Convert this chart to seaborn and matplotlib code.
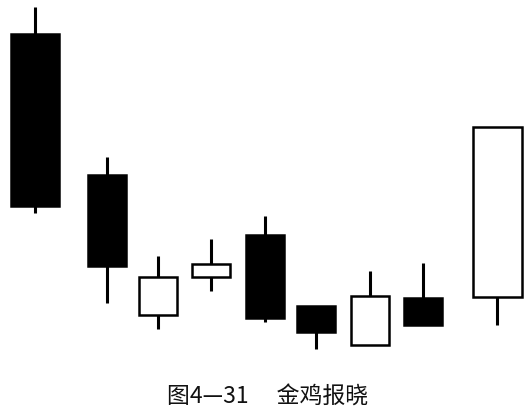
import numpy as np
import matplotlib
matplotlib.use("Agg")
import matplotlib.pyplot as plt
import seaborn as sns

# candle data (price units)
days = [0, 1.36, 2.32, 3.32, 4.34, 5.30, 6.32, 7.32, 8.72]
opens = [32.5, 18.4, 4.4, 8.2, 12.4, 5.3, 1.4, 6.1, 6.2]
closes = [15.3, 9.3, 8.2, 9.5, 4.1, 2.7, 6.3, 3.4, 23.2]
highs = [35.2, 20.2, 10.3, 12.0, 14.3, 5.3, 8.8, 9.6, 23.2]
lows = [14.6, 5.6, 3.0, 6.8, 3.7, 1.0, 1.4, 3.4, 3.4]
caption = "图4\u201431\u3000 金鸡报晓"

sns.set_style("white")
plt.rcParams['font.family'] = ['Noto Sans CJK SC', 'DejaVu Sans']

fig = plt.figure(figsize=(5.28, 4.14), dpi=100)
ax = fig.add_axes([0, 54 / 414, 1, 360 / 414])
ax.set_xlim(-0.66, 9.30)
ax.set_ylim(0, 36)
ax.axis('off')

n = len(days)
widths = [0.92 if i in (0, n - 1) else 0.72 for i in range(n)]

for d, o, c, h, l, w in zip(days, opens, closes, highs, lows, widths):
    top, bot = max(o, c), min(o, c)
    # wicks
    if h > top:
        ax.vlines(d, top, h, color='black', lw=2.2, zorder=1)
    if l < bot:
        ax.vlines(d, l, bot, color='black', lw=2.2, zorder=1)
    face = 'black' if c < o else 'white'
    ax.bar(d, top - bot, bottom=bot, width=w, color=face,
           edgecolor='black', linewidth=1.8, zorder=2)

fig.text(267.5 / 528, 1 - 397 / 414, caption, ha='center', va='center',
         fontsize=16.5, color='#111111')

fig.savefig('out.png', dpi=100, facecolor='white')
